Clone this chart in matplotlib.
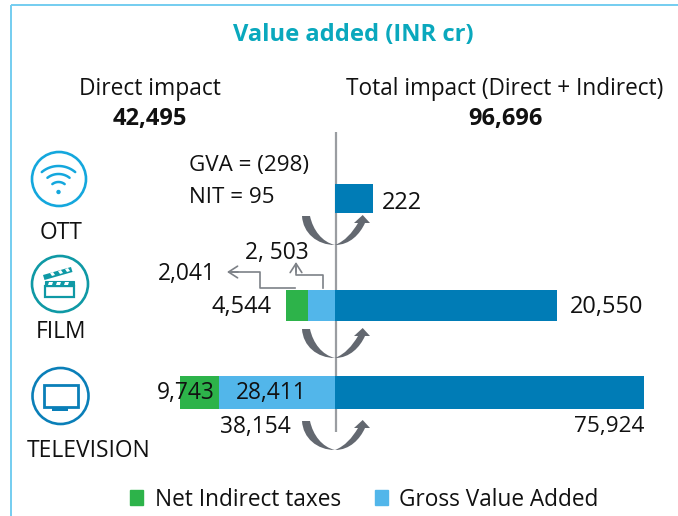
import numpy as np
import matplotlib
matplotlib.use("Agg")
import matplotlib.pyplot as plt
from matplotlib.patches import Circle, Rectangle, Polygon, PathPatch, Patch
from matplotlib.path import Path

plt.rcParams['font.family'] = ['Open Sans', 'DejaVu Sans']

# ---- data ----
categories = ["OTT", "FILM", "TELEVISION"]
total_impact = [222, 20550, 75924]
gross_value_added = [0, 2503, 28411]
net_indirect_taxes = [0, 2041, 9743]
direct_impact = [None, 4544, 38154]
overall_direct = "42,495"
overall_total = "96,696"

# each row of the original is drawn to its own scale (pixels per INR cr)
row_px_per_unit = [38 / 222, 222 / 20550, 309 / 75924]
row_bands = [(184, 213), (290, 321), (376, 409)]

W, H = 678, 516
ZERO = 335
C_TOTAL, C_GVA, C_NIT = "#007cb6", "#52b6ea", "#2db34a"
C_TEXT = "#111111"
FS = 16.4

fig = plt.figure(figsize=(W / 100, H / 100), dpi=100, facecolor="white")

def pixel_axes(z):
    a = fig.add_axes([0, 0, 1, 1], zorder=z)
    a.set_xlim(0, W); a.set_ylim(H, 0); a.axis("off"); a.patch.set_alpha(0)
    return a

under = pixel_axes(0)
over = pixel_axes(3)

# frame
frame_c = "#74cdf0"
under.plot([11, W], [5, 5], color=frame_c, lw=1.4, solid_capstyle="butt")
under.plot([11, 11], [5, H], color=frame_c, lw=1.4, solid_capstyle="butt")
# centre line
under.plot([ZERO + 0.7, ZERO + 0.7], [132, 432], color="#9a9da1", lw=1.6, solid_capstyle="butt")

# bars, each row with its own x scale
for i, (top, bot) in enumerate(row_bands):
    k = row_px_per_unit[i]
    a = fig.add_axes([0, 1 - bot / H, 1, (bot - top) / H], zorder=1)
    a.set_xlim(-ZERO / k, (W - ZERO) / k); a.set_ylim(-0.5, 0.5)
    a.axis("off"); a.patch.set_alpha(0)
    a.barh(0, total_impact[i], height=1, color=C_TOTAL, linewidth=0)
    a.barh(0, -gross_value_added[i], height=1, color=C_GVA, linewidth=0)
    a.barh(0, -net_indirect_taxes[i], left=-gross_value_added[i], height=1, color=C_NIT, linewidth=0)

# curved crescent arrows
def crescent(y0):
    verts = [(-33, 0), (-32, 17), (-18, 29), (0, 29),
             (15, 29), (25, 18), (30, 7), (35, 7), (27.7, -1), (19, 7), (23, 7),
             (17, 17), (10, 25), (0, 29),
             (-13, 26), (-22, 14), (-25, 0), (-33, 0)]
    codes = [Path.MOVETO, Path.CURVE4, Path.CURVE4, Path.CURVE4,
             Path.CURVE4, Path.CURVE4, Path.CURVE4, Path.LINETO, Path.LINETO, Path.LINETO, Path.LINETO,
             Path.CURVE4, Path.CURVE4, Path.CURVE4,
             Path.CURVE4, Path.CURVE4, Path.CURVE4, Path.CLOSEPOLY]
    pts = [(ZERO + x, y0 + y) for x, y in verts]
    over.add_patch(PathPatch(Path(pts, codes), fc="#636870", ec="none"))

for y0 in (216, 329, 421):
    crescent(y0)

# elbow connectors
C_ARR = "#7d8187"
head = dict(arrowstyle="->,head_length=0.65,head_width=0.42", color=C_ARR, lw=1.2, shrinkA=0, shrinkB=0)
over.plot([295, 260, 260, 232], [288, 288, 272, 272], color=C_ARR, lw=1.2)
over.annotate("", xy=(227, 272), xytext=(238, 272), arrowprops=head)
over.plot([323, 323, 296, 296], [288, 275, 275, 267], color=C_ARR, lw=1.2)
over.annotate("", xy=(296, 262), xytext=(296, 272), arrowprops=head)

# icons
C_W, C_F, C_T = "#14a7dd", "#0f99a5", "#0a7fb8"
over.add_patch(Circle((59, 179), 27, fc="none", ec=C_W, lw=1.9))
over.add_patch(Circle((58.5, 192), 2.2, fc=C_W, ec="none"))
for r, half in zip((10, 18, 26), (38, 38, 40)):
    t = np.radians(np.linspace(-half, half, 30))
    over.plot(58.5 + r * np.sin(t), 192 - r * np.cos(t), color=C_W, lw=1.8, solid_capstyle="round")

over.add_patch(Circle((60, 284), 28, fc="none", ec=C_F, lw=1.9))
over.add_patch(Rectangle((45, 286), 29, 11, fc="none", ec=C_F, lw=1.6))
over.add_patch(Rectangle((45, 281), 29, 5, fc=C_F, ec=C_F, lw=0.8))
for xs in (49, 57, 65):
    over.add_patch(Polygon([(xs, 282), (xs + 4, 282), (xs + 3, 285), (xs - 1, 285)], fc="white", ec="none"))
over.add_patch(Polygon([(43, 275), (71, 267), (72.5, 272), (44.5, 280)], fc=C_F, ec="none"))
for xs, ys in ((50, 273), (58, 271), (65, 269)):
    over.add_patch(Polygon([(xs, ys), (xs + 3, ys - 1), (xs + 5, ys + 2), (xs + 2, ys + 3)], fc="white", ec="none"))

over.add_patch(Circle((60.5, 396), 28, fc="none", ec=C_T, lw=1.9))
over.add_patch(Rectangle((43.5, 384.5), 34, 22.5, fc="none", ec=C_T, lw=2.0))
over.add_patch(Rectangle((52, 407), 16, 3.5, fc=C_T, ec="none"))

# text
def label(x, y, s, ha="center", fs=FS, **kw):
    kw.setdefault("color", C_TEXT)
    over.text(x, y, s, ha=ha, va="center_baseline", fontsize=fs, **kw)

label(353.5, 32, "Value added (INR cr)", fs=17.1, fontweight="bold", color="#0aa8bd")
label(150, 86, "Direct impact")
label(505, 86, "Total impact (Direct + Indirect)", fs=16.3)
label(150, 116, overall_direct, fontweight="bold", fs=17)
label(505, 116, overall_total, fontweight="bold", fs=17)

label(61, 230, categories[0])
label(61, 329, categories[1])
label(89, 448, categories[2])

label(189, 163, "GVA = (298)", ha="left", fs=16.1)
label(189, 195, "NIT = 95", ha="left", fs=16.1)
label(382, 200, f"{total_impact[0]:,}", ha="left", fs=17)

label(276.5, 250, "2, 503")
label(158, 271, f"{net_indirect_taxes[1]:,}", ha="left")
label(272, 304, f"{direct_impact[1]:,}", ha="right", fs=17)
label(570, 304, f"{total_impact[1]:,}", ha="left", fs=17)

label(157, 390, f"{net_indirect_taxes[2]:,}", ha="left")
label(271.5, 390, f"{gross_value_added[2]:,}")
label(255, 424, f"{direct_impact[2]:,}")
label(644, 424, f"{total_impact[2]:,}", ha="right", fs=16.2)

# legend
handles = [Patch(color=C_NIT, label="Net Indirect taxes"), Patch(color=C_GVA, label="Gross Value Added")]
over.legend(handles=handles, ncol=2, loc="center", bbox_to_anchor=(364.5 / W, 1 - 499.5 / H),
            bbox_transform=fig.transFigure, frameon=False, fontsize=16.3,
            handlelength=0.58, handleheight=0.58, handletextpad=0.5, columnspacing=1.5,
            labelcolor=C_TEXT, borderpad=0, borderaxespad=0)

fig.savefig("out.png", dpi=100)
